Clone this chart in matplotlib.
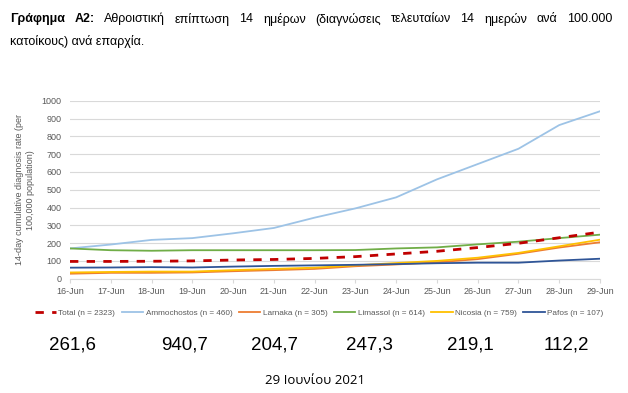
import matplotlib.pyplot as plt

plt.rcParams['font.family'] = ['Liberation Sans', 'DejaVu Sans']

dates = ['16-Jun', '17-Jun', '18-Jun', '19-Jun', '20-Jun', '21-Jun', '22-Jun',
         '23-Jun', '24-Jun', '25-Jun', '26-Jun', '27-Jun', '28-Jun', '29-Jun']
total = [97, 97, 98, 100, 105, 108, 114, 124, 139, 154, 175, 199, 230, 261.6]
ammochostos = [170, 192, 218, 228, 255, 285, 343, 395, 457, 558, 644, 730, 863, 940.7]
larnaka = [28, 33, 33, 35, 42, 48, 55, 70, 80, 92, 110, 140, 175, 204.7]
limassol = [170, 160, 157, 160, 160, 160, 160, 161, 170, 176, 193, 208, 228, 247.3]
nicosia = [35, 38, 40, 40, 48, 55, 62, 75, 88, 100, 118, 145, 182, 219.1]
pafos = [62, 63, 65, 63, 68, 72, 75, 78, 82, 87, 90, 90, 102, 112.2]

series_labels = ['Total (n = 2323)', 'Ammochostos (n = 460)', 'Larnaka (n = 305)',
                 'Limassol (n = 614)', 'Nicosia (n = 759)', 'Pafos (n = 107)']
last_values = ['261,6', '940,7', '204,7', '247,3', '219,1', '112,2']

fig = plt.figure(figsize=(6.28, 3.93), dpi=100)
ax = fig.add_axes([70 / 628, 1 - 278.7 / 393, 530 / 628, 178 / 393])

x = range(len(dates))
ax.plot(x, total, color='#c00000', lw=2, ls=(0, (3, 3)), label=series_labels[0], zorder=5)
ax.plot(x, ammochostos, color='#9dc3e6', lw=1.3, label=series_labels[1])
ax.plot(x, larnaka, color='#ed7d31', lw=1.3, label=series_labels[2])
ax.plot(x, limassol, color='#70ad47', lw=1.3, label=series_labels[3])
ax.plot(x, nicosia, color='#ffc000', lw=1.3, label=series_labels[4])
ax.plot(x, pafos, color='#2f5597', lw=1.3, label=series_labels[5])

ax.set_xlim(0, len(dates) - 1)
ax.set_ylim(0, 1000)
ax.set_yticks(range(0, 1001, 100))
ax.set_xticks(list(x))
ax.set_xticklabels(dates)
ax.grid(axis='y', color='#d9d9d9', lw=0.8)
ax.set_axisbelow(True)
for s in ['top', 'right', 'left']:
    ax.spines[s].set_visible(False)
ax.spines['bottom'].set_color('#d9d9d9')
ax.tick_params(axis='y', length=0, labelsize=6.5, labelcolor='#595959', pad=6)
ax.tick_params(axis='x', length=3, color='#d9d9d9', labelsize=6.5, labelcolor='#595959', pad=3)
ax.set_ylabel('14-day cumulative diagnosis rate (per\n100,000 population)',
              fontsize=6.5, color='#595959', labelpad=5)

fig.legend(loc='center', bbox_to_anchor=(319 / 628, 1 - 313 / 393), ncol=6,
           frameon=False, fontsize=5.9, handlelength=2.6, columnspacing=0.8,
           handletextpad=0.3, labelcolor='#595959')

xs = [72, 185, 275, 369, 470, 566]
for xv, t in zip(xs, last_values):
    fig.text(xv / 628, 1 - 345 / 393, t, ha='center', va='center', fontsize=13.5)

fig.text(315 / 628, 1 - 381 / 393, '29 Ιουνίου 2021', ha='center', va='center',
         fontsize=9.5, family=['Open Sans', 'DejaVu Sans'])

# title, justified first line
fig.canvas.draw()
r = fig.canvas.get_renderer()
words = [('Γράφημα', 'bold'), ('A2:', 'bold'), ('Αθροιστική', 'normal'),
         ('επίπτωση', 'normal'), ('14', 'normal'), ('ημέρων', 'normal'),
         ('(διαγνώσεις', 'normal'), ('τελευταίων', 'normal'), ('14', 'normal'),
         ('ημερών', 'normal'), ('ανά', 'normal'), ('100.000', 'normal')]
y1 = 1 - 19 / 393
arts = [fig.text(0, y1, w, fontsize=9, weight=wt, va='center') for w, wt in words]
widths = [a.get_window_extent(r).width for a in arts]
x0, x1 = 10, 612
gap = (x1 - x0 - sum(widths)) / (len(words) - 1)
pos = x0
for a, w in zip(arts, widths):
    a.set_x(pos / 628)
    pos += w + gap
fig.text(10 / 628, 1 - 41 / 393, 'κατοίκους) ανά επαρχία.', fontsize=9, va='center')

fig.savefig('out.png', dpi=100)
